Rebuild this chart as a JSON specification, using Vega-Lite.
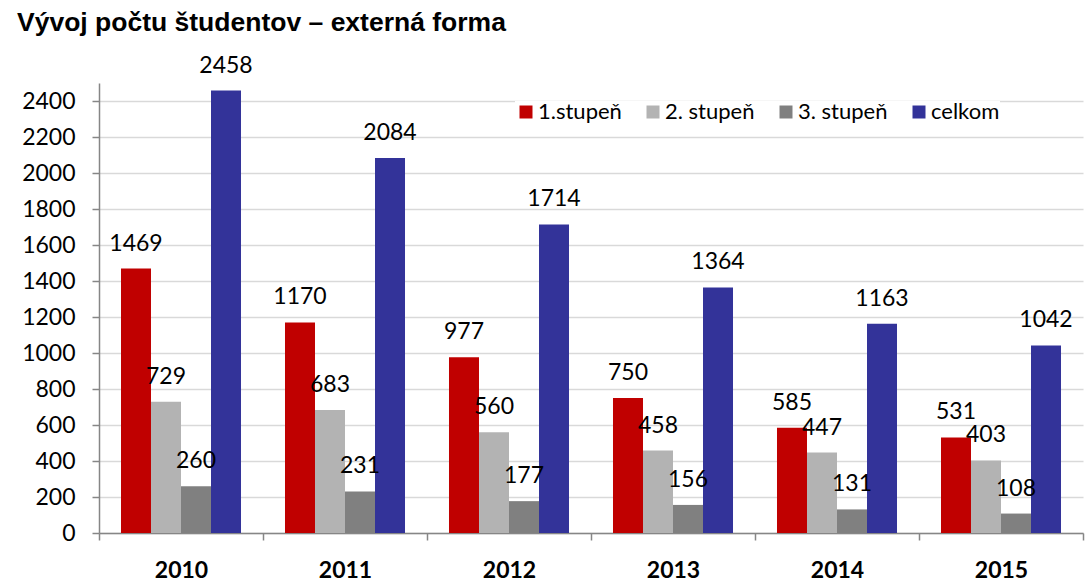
{
  "$schema": "https://vega.github.io/schema/vega-lite/v6.json",
  "width": 984,
  "height": 450,
  "autosize": {"type": "none"},
  "padding": {"left": 99, "top": 83, "right": 6, "bottom": 52},
  "background": "white",
  "title": {
    "text": "Vývoj počtu študentov – externá forma",
    "font": "Liberation Sans",
    "fontSize": 26.5,
    "fontWeight": "bold",
    "color": "#000000",
    "anchor": "start",
    "frame": "group",
    "dx": -82,
    "baseline": "alphabetic",
    "offset": -3
  },
  "config": {
    "view": {"stroke": null}
  },
  "data": {
    "values": [
      {"rok": "2010", "stupen": "1.stupeň", "pocet": 1469},
      {"rok": "2010", "stupen": "2. stupeň", "pocet": 729},
      {"rok": "2010", "stupen": "3. stupeň", "pocet": 260},
      {"rok": "2010", "stupen": "celkom", "pocet": 2458},
      {"rok": "2011", "stupen": "1.stupeň", "pocet": 1170},
      {"rok": "2011", "stupen": "2. stupeň", "pocet": 683},
      {"rok": "2011", "stupen": "3. stupeň", "pocet": 231},
      {"rok": "2011", "stupen": "celkom", "pocet": 2084},
      {"rok": "2012", "stupen": "1.stupeň", "pocet": 977},
      {"rok": "2012", "stupen": "2. stupeň", "pocet": 560},
      {"rok": "2012", "stupen": "3. stupeň", "pocet": 177},
      {"rok": "2012", "stupen": "celkom", "pocet": 1714},
      {"rok": "2013", "stupen": "1.stupeň", "pocet": 750},
      {"rok": "2013", "stupen": "2. stupeň", "pocet": 458},
      {"rok": "2013", "stupen": "3. stupeň", "pocet": 156},
      {"rok": "2013", "stupen": "celkom", "pocet": 1364},
      {"rok": "2014", "stupen": "1.stupeň", "pocet": 585},
      {"rok": "2014", "stupen": "2. stupeň", "pocet": 447},
      {"rok": "2014", "stupen": "3. stupeň", "pocet": 131},
      {"rok": "2014", "stupen": "celkom", "pocet": 1163},
      {"rok": "2015", "stupen": "1.stupeň", "pocet": 531},
      {"rok": "2015", "stupen": "2. stupeň", "pocet": 403},
      {"rok": "2015", "stupen": "3. stupeň", "pocet": 108},
      {"rok": "2015", "stupen": "celkom", "pocet": 1042}
    ]
  },
  "encoding": {
    "x": {
      "field": "rok",
      "type": "nominal",
      "title": null,
      "scale": {"paddingInner": 0, "paddingOuter": 0},
      "axis": {
        "labelAngle": 0,
        "labelFont": "Lato",
        "labelFontSize": 23,
        "labelFontWeight": "bold",
        "labelColor": "#000000",
        "labelBaseline": "alphabetic",
        "labelPadding": 37,
        "tickBand": "extent",
        "tickSize": 7,
        "tickColor": "#868686",
        "domainColor": "#868686",
        "domainWidth": 1.5,
        "tickWidth": 1.5,
        "grid": false
      }
    },
    "xOffset": {
      "field": "stupen",
      "type": "nominal",
      "sort": ["1.stupeň", "2. stupeň", "3. stupeň", "celkom"],
      "scale": {"paddingInner": 0, "paddingOuter": 0.733}
    },
    "y": {
      "field": "pocet",
      "type": "quantitative",
      "title": null,
      "scale": {"domain": [0, 2500], "nice": false},
      "axis": {
        "values": [0, 200, 400, 600, 800, 1000, 1200, 1400, 1600, 1800, 2000, 2200, 2400],
        "format": "d",
        "labelFont": "Lato",
        "labelFontSize": 23,
        "labelColor": "#000000",
        "labelPadding": 17,
        "tickSize": 7,
        "tickColor": "#868686",
        "tickWidth": 1.5,
        "domainColor": "#868686",
        "domainWidth": 1.5,
        "gridColor": "#D9D9D9",
        "gridWidth": 1.5
      }
    }
  },
  "layer": [
    {
      "mark": {"type": "bar"},
      "encoding": {
        "color": {
          "field": "stupen",
          "type": "nominal",
          "sort": ["1.stupeň", "2. stupeň", "3. stupeň", "celkom"],
          "scale": {
            "domain": ["1.stupeň", "2. stupeň", "3. stupeň", "celkom"],
            "range": ["#C00000", "#B3B3B3", "#808080", "#333399"]
          },
          "legend": {
            "title": null,
            "orient": "none",
            "legendX": 416,
            "legendY": 18,
            "direction": "horizontal",
            "symbolType": "square",
            "symbolSize": 169,
            "symbolStrokeWidth": 0,
            "labelFont": "Lato",
            "labelFontSize": 22,
            "labelColor": "#000000",
            "labelOffset": 1,
            "columnPadding": 20,
            "padding": 0,
            "fillColor": "white"
          }
        }
      }
    },
    {
      "mark": {
        "type": "text",
        "baseline": "alphabetic",
        "dy": -18,
        "font": "Lato",
        "fontSize": 23,
        "color": "#000000"
      },
      "encoding": {
        "text": {"field": "pocet", "type": "quantitative"}
      }
    }
  ]
}
